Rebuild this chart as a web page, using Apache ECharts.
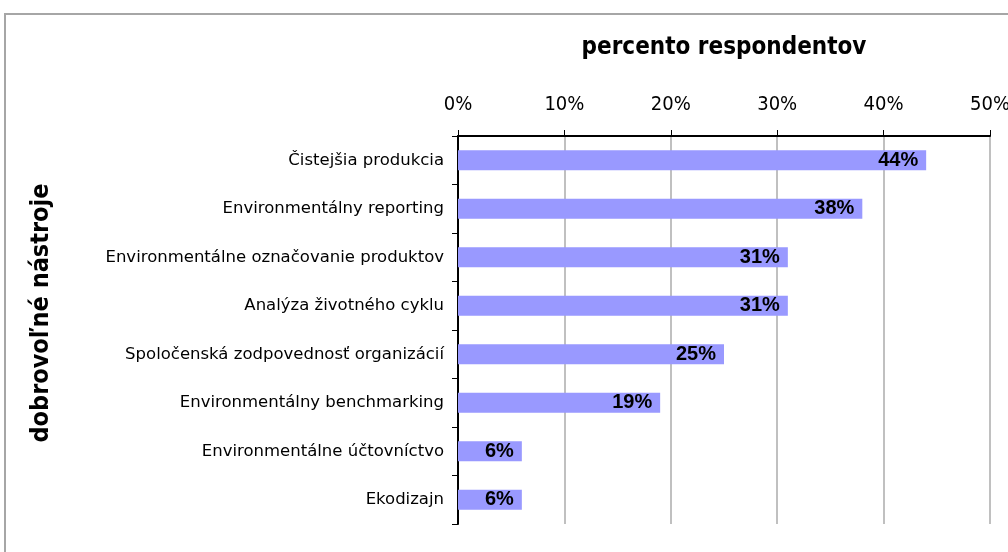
<!DOCTYPE html>
<html>
<head>
<meta charset="utf-8">
<script src="https://cdn.jsdelivr.net/npm/echarts@6/dist/echarts.min.js"></script>
<style>
    html, body { margin: 0; padding: 0; background: #ffffff; }
    #chart { width: 1008px; height: 552px; }
</style>
</head>
<body>
<div id="chart"></div>
<script>
    // nástroje a percentá respondentov
    var categories = [
        'Čistejšia produkcia',
        'Environmentálny reporting',
        'Environmentálne označovanie produktov',
        'Analýza životného cyklu',
        'Spoločenská zodpovednosť organizácií',
        'Environmentálny benchmarking',
        'Environmentálne účtovníctvo',
        'Ekodizajn'
    ];
    var values = [44, 38, 31, 31, 25, 19, 6, 6];
    var xTicks = [0, 10, 20, 30, 40, 50];

    var narrow = '"DejaVu Sans Condensed", "Liberation Sans Narrow", "Liberation Sans", sans-serif';

    var myChart = echarts.init(document.getElementById('chart'));
    myChart.setOption({
        backgroundColor: '#ffffff',
        animation: false,
        graphic: [{
            type: 'rect',
            shape: { x: 5, y: 14, width: 1020, height: 560 },
            style: { fill: 'none', stroke: '#a6a6a6', lineWidth: 2 },
            silent: true
        }],
        grid: { left: 458, right: 18, top: 136, bottom: 28, outerBoundsMode: 'none', containLabel: false },
        xAxis: {
            type: 'value',
            position: 'top',
            min: xTicks[0],
            max: xTicks[xTicks.length - 1],
            interval: 10,
            name: 'percento respondentov',
            nameLocation: 'middle',
            nameGap: 76,
            nameTextStyle: { fontFamily: narrow, fontWeight: 'bold', fontSize: 24, color: '#000' },
            axisLine: { show: true, lineStyle: { color: '#000', width: 2 } },
            axisTick: { show: true, length: 6, lineStyle: { color: '#000' } },
            axisLabel: {
                formatter: '{value}%',
                margin: 21,
                fontFamily: narrow,
                fontSize: 20,
                color: '#000'
            },
            splitLine: { show: true, lineStyle: { color: '#c0c0c0', width: 2 } }
        },
        yAxis: {
            type: 'category',
            inverse: true,
            data: categories,
            name: 'dobrovoľné nástroje',
            nameLocation: 'middle',
            nameGap: 404,
            nameRotate: 90,
            nameTextStyle: { fontFamily: narrow, fontWeight: 'bold', fontSize: 25, color: '#000', padding: [0, 0, 0, 34] },
            axisLine: { show: true, lineStyle: { color: '#000', width: 2 } },
            axisTick: { show: true, length: 6, lineStyle: { color: '#000' } },
            axisLabel: {
                margin: 14,
                padding: [10, 0, 0, 0],
                fontFamily: 'DejaVu Sans',
                fontSize: 16.5,
                color: '#000'
            }
        },
        series: [{
            type: 'bar',
            data: values,
            barWidth: 20,
            itemStyle: { color: '#9999ff' },
            label: {
                show: true,
                position: 'insideRight',
                distance: 8,
                formatter: '{c}%',
                fontFamily: 'Liberation Sans',
                fontWeight: 'bold',
                fontSize: 20,
                color: '#000'
            }
        }]
    });
</script>
</body>
</html>
